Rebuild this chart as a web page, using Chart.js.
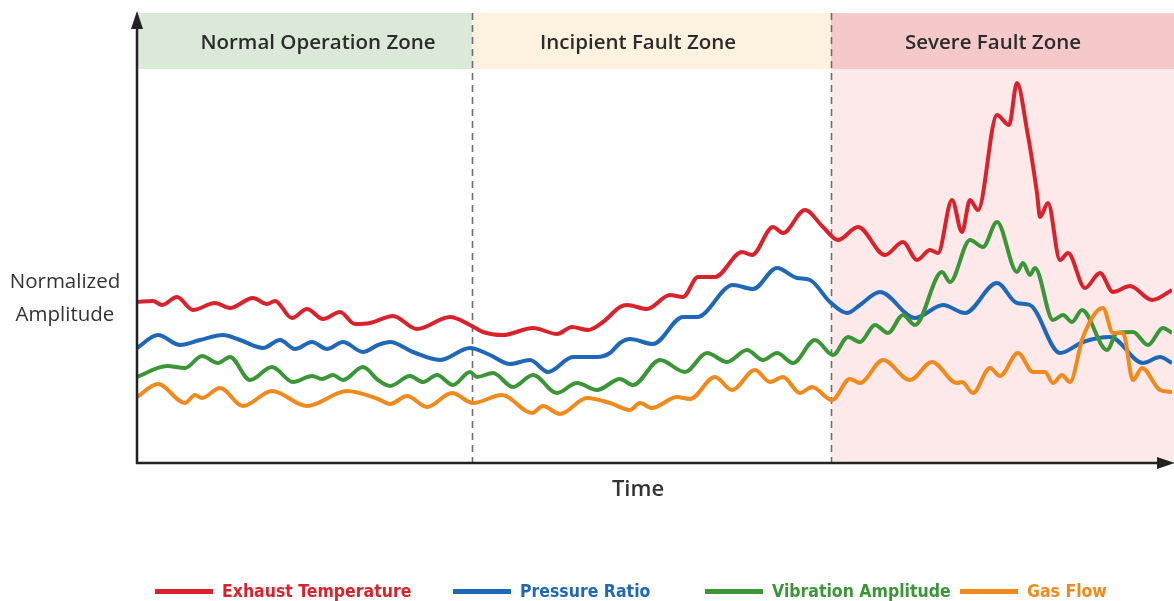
<!DOCTYPE html>
<html>
<head>
<meta charset="utf-8">
<script src="https://cdn.jsdelivr.net/npm/chart.js@4.4.1/dist/chart.umd.min.js"></script>
<style>
  html, body { margin: 0; padding: 0; background: #fff; }
  #wrap { position: relative; width: 1174px; height: 601px; }
</style>
</head>
<body>
<div id="wrap"><canvas id="fault-chart"></canvas></div>
<script>
// time axis runs 0..1035, amplitude 0..450 (arbitrary normalized units)
const zoneNames = ['Normal Operation Zone', 'Incipient Fault Zone', 'Severe Fault Zone'];
const zoneBounds = [0, 335, 694, 1035];
const zoneLabelAt = [181, 501, 856];
const seriesNames = ['Exhaust Temperature', 'Pressure Ratio', 'Vibration Amplitude', 'Gas Flow'];

const exhaustTime = [0, 16, 25, 40, 56, 78, 93, 116, 130, 138, 155, 170, 186, 203, 218, 233, 256, 280, 313, 333, 346, 366, 396, 420, 435, 451, 466, 483, 490, 510, 533, 546, 561, 578, 605, 615, 636, 646, 668, 686, 701, 721, 748, 766, 780, 793, 801, 815, 825, 833, 841, 860, 872, 880, 890, 900, 903, 911, 923, 931, 948, 963, 976, 993, 1015, 1035];
const exhaustTemp = [161, 162, 158, 166, 153, 160, 155, 165, 159, 162, 145, 154, 144, 151, 139, 140, 147, 134, 146, 138, 131, 128, 135, 129, 136, 133, 141, 156, 158, 154, 168, 166, 186, 186, 211, 208, 236, 230, 253, 236, 223, 236, 208, 221, 203, 213, 210, 263, 231, 263, 253, 348, 338, 380, 333, 270, 246, 260, 203, 210, 175, 190, 171, 177, 163, 173];

const pressureTime = [0, 21, 43, 63, 86, 103, 126, 143, 158, 175, 190, 206, 226, 241, 253, 276, 303, 333, 353, 373, 393, 411, 436, 460, 473, 483, 493, 516, 546, 560, 596, 616, 640, 660, 673, 693, 710, 723, 743, 778, 806, 828, 860, 880, 893, 923, 946, 973, 1006, 1023, 1035];
const pressureRatio = [115, 128, 118, 123, 128, 123, 115, 123, 114, 121, 114, 121, 111, 118, 121, 111, 103, 115, 108, 99, 103, 91, 106, 106, 110, 120, 124, 119, 146, 146, 178, 174, 195, 185, 183, 161, 150, 158, 171, 145, 158, 150, 180, 160, 158, 110, 121, 126, 100, 106, 100];

const vibrationTime = [0, 30, 48, 65, 81, 93, 113, 135, 156, 175, 185, 196, 206, 226, 241, 253, 273, 286, 300, 316, 333, 340, 356, 376, 396, 420, 440, 460, 483, 496, 523, 548, 570, 590, 610, 626, 640, 656, 678, 696, 711, 723, 738, 751, 766, 778, 805, 813, 833, 846, 860, 880, 886, 893, 898, 916, 926, 935, 945, 970, 980, 996, 1011, 1026, 1035];
const vibrationAmp = [86, 97, 95, 107, 100, 106, 83, 96, 81, 87, 84, 88, 83, 96, 83, 77, 87, 81, 88, 78, 91, 86, 90, 76, 88, 70, 80, 73, 84, 78, 103, 91, 110, 101, 113, 103, 110, 100, 123, 108, 126, 121, 138, 130, 148, 138, 191, 181, 223, 216, 241, 191, 200, 188, 195, 143, 148, 141, 153, 113, 130, 131, 118, 135, 130];

const gasTime = [0, 21, 48, 58, 65, 83, 106, 135, 170, 210, 241, 253, 270, 290, 315, 336, 365, 395, 406, 423, 450, 473, 493, 503, 515, 540, 553, 578, 595, 618, 633, 646, 663, 675, 695, 713, 723, 746, 773, 795, 820, 825, 836, 853, 863, 881, 896, 908, 916, 925, 933, 946, 966, 976, 986, 996, 1005, 1023, 1035];
const gasFlow = [66, 79, 60, 68, 65, 75, 57, 72, 57, 72, 64, 59, 67, 56, 70, 60, 68, 50, 57, 49, 65, 60, 53, 60, 55, 66, 64, 86, 73, 93, 81, 86, 70, 76, 63, 84, 80, 103, 83, 101, 80, 81, 70, 95, 87, 110, 91, 91, 80, 88, 81, 126, 155, 130, 130, 83, 95, 73, 71];

const seriesColors = ['#d8232c', '#1f68b8', '#3a9637', '#f08a1c'];
const zoneHeadColors = ['#dbe9d8', '#fcf2df', '#f5c9c9'];
const zoneBodyColors = ['rgba(0,0,0,0)', 'rgba(0,0,0,0)', '#fde9e9'];
const legendX = [155, 453, 705, 960];

function pairs(xs, ys) {
  return xs.map((x, i) => ({ x: x, y: ys[i] }));
}

const seriesData = [
  pairs(exhaustTime, exhaustTemp),
  pairs(pressureTime, pressureRatio),
  pairs(vibrationTime, vibrationAmp),
  pairs(gasTime, gasFlow)
];

// zones, dividers, axes, labels and the legend
const decorPlugin = {
  id: 'decor',
  beforeDatasetsDraw(chart) {
    const ctx = chart.ctx;
    const xs = chart.scales.x, ys = chart.scales.y;
    const top = ys.getPixelForValue(450), headBottom = ys.getPixelForValue(394), bottom = ys.getPixelForValue(0);
    ctx.save();
    for (let i = 0; i < zoneNames.length; i++) {
      const x0 = xs.getPixelForValue(zoneBounds[i]);
      const x1 = xs.getPixelForValue(zoneBounds[i + 1]) + 2;
      ctx.fillStyle = zoneBodyColors[i];
      ctx.fillRect(x0, headBottom, x1 - x0, bottom - headBottom);
      ctx.fillStyle = zoneHeadColors[i];
      ctx.fillRect(x0, top, x1 - x0, headBottom - top);
      ctx.fillStyle = '#2b2b2b';
      ctx.font = '600 20.5px "Open Sans", sans-serif';
      ctx.textAlign = 'center';
      ctx.textBaseline = 'middle';
      ctx.fillText(zoneNames[i], xs.getPixelForValue(zoneLabelAt[i]), 43);
    }
    // dashed dividers
    ctx.strokeStyle = '#6f6f6f';
    ctx.lineWidth = 1.6;
    ctx.setLineDash([7, 5]);
    [zoneBounds[1], zoneBounds[2]].forEach(v => {
      const px = Math.round(xs.getPixelForValue(v)) + 0.5;
      ctx.beginPath();
      ctx.moveTo(px, top);
      ctx.lineTo(px, bottom);
      ctx.stroke();
    });
    ctx.restore();
  },
  afterDraw(chart) {
    const ctx = chart.ctx;
    const area = chart.chartArea;
    const x0 = area.left, y0 = area.bottom;
    ctx.save();
    ctx.strokeStyle = '#222';
    ctx.fillStyle = '#222';
    ctx.lineWidth = 2.5;
    ctx.beginPath();
    ctx.moveTo(x0, y0 + 1);
    ctx.lineTo(x0, area.top + 6);
    ctx.moveTo(x0 - 1, y0);
    ctx.lineTo(1166, y0);
    ctx.stroke();
    // arrow heads
    ctx.beginPath();
    ctx.moveTo(x0, area.top - 2);
    ctx.lineTo(x0 - 6, area.top + 16);
    ctx.lineTo(x0 + 6, area.top + 16);
    ctx.closePath();
    ctx.fill();
    ctx.beginPath();
    ctx.moveTo(1175, y0);
    ctx.lineTo(1157, y0 - 6);
    ctx.lineTo(1157, y0 + 6);
    ctx.closePath();
    ctx.fill();

    // axis titles
    ctx.fillStyle = '#333';
    ctx.textAlign = 'center';
    ctx.textBaseline = 'middle';
    ctx.font = '20.5px "Open Sans", sans-serif';
    ctx.fillText('Normalized', 65, 282);
    ctx.fillText('Amplitude', 65, 315);
    ctx.font = '600 22px "Open Sans", sans-serif';
    ctx.fillText('Time', 638, 490);

    // legend
    ctx.textAlign = 'left';
    ctx.font = 'bold 17.5px "DejaVu Sans Condensed", sans-serif';
    chart.data.datasets.forEach((ds, i) => {
      const lx = legendX[i];
      ctx.fillStyle = ds.borderColor;
      ctx.fillRect(lx, 589, 58, 5);
      ctx.fillText(ds.label, lx + 67, 592);
    });
    ctx.restore();
  }
};

new Chart(document.getElementById('fault-chart'), {
  type: 'line',
  data: {
    datasets: seriesNames.map((name, i) => ({
      label: name,
      data: seriesData[i],
      borderColor: seriesColors[i],
      backgroundColor: seriesColors[i],
      borderWidth: 4,
      pointRadius: 0,
      fill: false,
      cubicInterpolationMode: 'monotone',
      order: 3 - i
    }))
  },
  options: {
    responsive: true,
    maintainAspectRatio: false,
    animation: false,
    layout: { padding: { left: 137, right: 2, top: 13, bottom: 138 } },
    plugins: {
      legend: { display: false },
      tooltip: { enabled: false }
    },
    scales: {
      x: { type: 'linear', min: 0, max: 1035, display: false },
      y: { min: 0, max: 450, display: false }
    }
  },
  plugins: [decorPlugin]
});
</script>
</body>
</html>
